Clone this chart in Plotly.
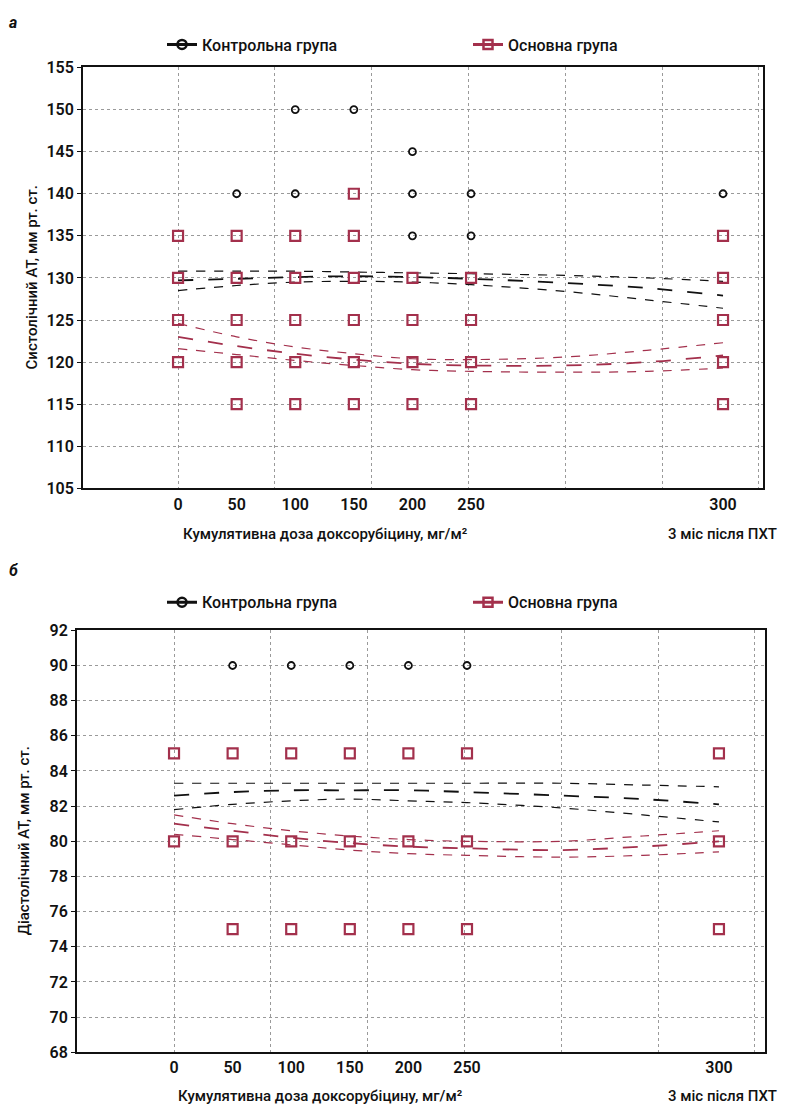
import plotly.graph_objects as go

# ---------------- data ----------------
dose_labels = ["0", "50", "100", "150", "200", "250", "300"]
dose_values = [0, 50, 100, 150, 200, 250, 300]
# plot position of each dose tick (the "3 міс після ПХТ" point sits further right)
dose_pos = [0, 50, 100, 150, 200, 250, 465]

# Systolic (a)
sys_ctrl_dose = [50, 100, 100, 150, 200, 200, 200, 250, 250, 300]
sys_ctrl_val = [140, 150, 140, 150, 145, 140, 135, 140, 135, 140]
sys_main_dose = [0, 0, 0, 0,
                 50, 50, 50, 50, 50,
                 100, 100, 100, 100, 100,
                 150, 150, 150, 150, 150, 150,
                 200, 200, 200, 200,
                 250, 250, 250, 250,
                 300, 300, 300, 300, 300]
sys_main_val = [135, 130, 125, 120,
                135, 130, 125, 120, 115,
                135, 130, 125, 120, 115,
                140, 135, 130, 125, 120, 115,
                130, 125, 120, 115,
                130, 125, 120, 115,
                135, 130, 125, 120, 115]

trend_pos = [0, 50, 100, 150, 200, 250, 330, 400, 465]
sys_ctrl_mean = [129.7, 129.9, 130.1, 130.2, 130.1, 129.9, 129.4, 128.8, 127.9]
sys_ctrl_up = [130.8, 130.8, 130.8, 130.7, 130.6, 130.5, 130.3, 130.0, 129.6]
sys_ctrl_lo = [128.5, 129.1, 129.5, 129.6, 129.5, 129.2, 128.4, 127.4, 126.4]
sys_main_mean = [123.0, 121.9, 121.0, 120.3, 119.8, 119.6, 119.6, 120.0, 120.8]
sys_main_up = [124.6, 123.0, 121.8, 121.0, 120.4, 120.3, 120.6, 121.4, 122.3]
sys_main_lo = [121.6, 120.9, 120.2, 119.6, 119.1, 118.9, 118.8, 118.9, 119.3]

# Diastolic (б)
dia_ctrl_dose = [50, 100, 150, 200, 250]
dia_ctrl_val = [90, 90, 90, 90, 90]
dia_main_dose = [0, 50, 100, 150, 200, 250, 300,
                 0, 50, 100, 150, 200, 250, 300,
                 50, 100, 150, 200, 250, 300]
dia_main_val = [85, 85, 85, 85, 85, 85, 85,
                80, 80, 80, 80, 80, 80, 80,
                75, 75, 75, 75, 75, 75]
dia_ctrl_mean = [82.6, 82.8, 82.9, 82.9, 82.9, 82.8, 82.6, 82.4, 82.1]
dia_ctrl_up = [83.3, 83.3, 83.3, 83.3, 83.3, 83.3, 83.3, 83.2, 83.1]
dia_ctrl_lo = [81.8, 82.1, 82.3, 82.4, 82.3, 82.2, 81.9, 81.5, 81.1]
dia_main_mean = [81.0, 80.6, 80.2, 79.9, 79.7, 79.6, 79.5, 79.7, 80.0]
dia_main_up = [81.5, 81.0, 80.6, 80.3, 80.1, 80.0, 80.0, 80.3, 80.6]
dia_main_lo = [80.4, 80.1, 79.8, 79.5, 79.3, 79.2, 79.1, 79.2, 79.4]

legend_names = ["Контрольна група", "Основна група"]
x_title = "Кумулятивна доза доксорубіцину, мг/м²"
x_title2 = "3 міс після ПХТ"
y_title_a = "Систолічний АТ, мм рт. ст."
y_title_b = "Діастолічний АТ, мм рт. ст."

# ---------------- styling ----------------
# placement calibration of the plot div inside the captured page
OX = 8
OY, SY = 16.5, 0.983
W, H = 782, 1101
FONT = "Roboto, Arial"
BLACK = "#111111"
RED = "#a3304c"
GRID = "#9a9a9a"
pos_of = dict(zip(dose_values, dose_pos))


def px(v):
    return (v - OX) / W


def py(v):
    return 1 - ((v - OY) / SY) / H


fig = go.Figure()


def add_panel(xa, ya, legs, ctrl_d, ctrl_v, main_d, main_v,
              cm, cu, cl, mm, mu, ml):
    for ys, dash, col, w in [(cu, "dash", BLACK, 1.2), (cl, "dash", BLACK, 1.2),
                             (cm, "longdash", BLACK, 1.8),
                             (mu, "dash", RED, 1.2), (ml, "dash", RED, 1.2),
                             (mm, "longdash", RED, 1.8)]:
        fig.add_trace(go.Scatter(x=trend_pos, y=ys, mode="lines", xaxis=xa, yaxis=ya,
                                 line=dict(color=col, width=w, dash=dash, shape="spline"),
                                 showlegend=False, hoverinfo="skip"))
    fig.add_trace(go.Scatter(x=[pos_of[d] for d in main_d], y=main_v, mode="markers",
                             xaxis=xa, yaxis=ya, showlegend=False,
                             marker=dict(symbol="square-open", size=10, color=RED,
                                         line=dict(width=2.2, color=RED))))
    fig.add_trace(go.Scatter(x=[pos_of[d] for d in ctrl_d], y=ctrl_v, mode="markers",
                             xaxis=xa, yaxis=ya, showlegend=False,
                             marker=dict(symbol="circle-open", size=7, color=BLACK,
                                         line=dict(width=1.8, color=BLACK))))
    fig.add_trace(go.Scatter(x=[None], y=[None], mode="lines+markers", name=legend_names[0],
                             xaxis=xa, yaxis=ya, legend=legs[0], showlegend=True,
                             line=dict(color=BLACK, width=3),
                             marker=dict(symbol="circle-open", size=9, color=BLACK,
                                         line=dict(width=2.5, color=BLACK))))
    fig.add_trace(go.Scatter(x=[None], y=[None], mode="lines+markers", name=legend_names[1],
                             xaxis=xa, yaxis=ya, legend=legs[1], showlegend=True,
                             line=dict(color=RED, width=3),
                             marker=dict(symbol="square-open", size=9, color=RED,
                                         line=dict(width=2.5, color=RED))))


add_panel("x", "y", ["legend", "legend2"], sys_ctrl_dose, sys_ctrl_val, sys_main_dose,
          sys_main_val, sys_ctrl_mean, sys_ctrl_up, sys_ctrl_lo,
          sys_main_mean, sys_main_up, sys_main_lo)
add_panel("x2", "y2", ["legend3", "legend4"], dia_ctrl_dose, dia_ctrl_val, dia_main_dose,
          dia_main_val, dia_ctrl_mean, dia_ctrl_up, dia_ctrl_lo,
          dia_main_mean, dia_main_up, dia_main_lo)

TICKFONT = dict(family=FONT, size=16, color=BLACK, weight=600)
xcommon = dict(tickmode="array", tickvals=dose_pos, ticktext=dose_labels,
               showgrid=False, ticks="", zeroline=False,
               showline=True, linecolor=BLACK, linewidth=2, mirror=True,
               tickfont=TICKFONT,
               minor=dict(tick0=0, dtick=82.6, showgrid=True, gridcolor=GRID,
                          griddash="dot", gridwidth=1, ticks=""))
ycommon = dict(showgrid=True, gridcolor=GRID, griddash="dot", gridwidth=1,
               zeroline=False, showline=True, linecolor=BLACK, linewidth=2, mirror=True,
               ticks="outside", ticklen=4, tickcolor=BLACK,
               tickfont=TICKFONT)


def leg(xp, yp):
    return dict(orientation="h", x=px(xp), y=py(yp), xanchor="left", yanchor="middle",
                itemwidth=30, font=dict(family=FONT, size=16, color=BLACK, weight=500),
                bgcolor="rgba(0,0,0,0)", borderwidth=0)


fig.update_layout(
    width=W, height=H, margin=dict(l=0, r=0, t=0, b=0), autosize=False,
    paper_bgcolor="white", plot_bgcolor="white",
    font=dict(family=FONT, size=15, color=BLACK),
    xaxis=dict(domain=[px(83), px(763)], range=[-81.1, 499.1], anchor="y", **xcommon),
    yaxis=dict(domain=[py(488), py(67)], range=[105, 155], dtick=5, anchor="x", **ycommon),
    xaxis2=dict(domain=[px(77), px(765)], range=[-82.8, 504.3], anchor="y2", **xcommon),
    yaxis2=dict(domain=[py(1052), py(630)], range=[68, 92], dtick=2, anchor="x2", **ycommon),
    legend=leg(162, 44), legend2=leg(468, 44),
    legend3=leg(162, 602), legend4=leg(468, 602),
    showlegend=True,
)

annots = [
    dict(x=px(13), y=py(22), text="<b><i>а</i></b>", font=dict(size=16)),
    dict(x=px(13), y=py(570), text="<b><i>б</i></b>", font=dict(size=16)),
    dict(x=px(325), y=py(534), text=x_title),
    dict(x=px(722), y=py(534), text=x_title2),
    dict(x=px(320), y=py(1096), text=x_title),
    dict(x=px(722), y=py(1096), text=x_title2),
    dict(x=px(32), y=py(277), text=y_title_a, textangle=-90),
    dict(x=px(24), y=py(841), text=y_title_b, textangle=-90),
]
for a in annots:
    fig.add_annotation(xref="paper", yref="paper", showarrow=False,
                       xanchor="center", yanchor="middle",
                       font=a.pop("font", dict(size=15, weight=500)), **a)

fig.write_html("out.html")
